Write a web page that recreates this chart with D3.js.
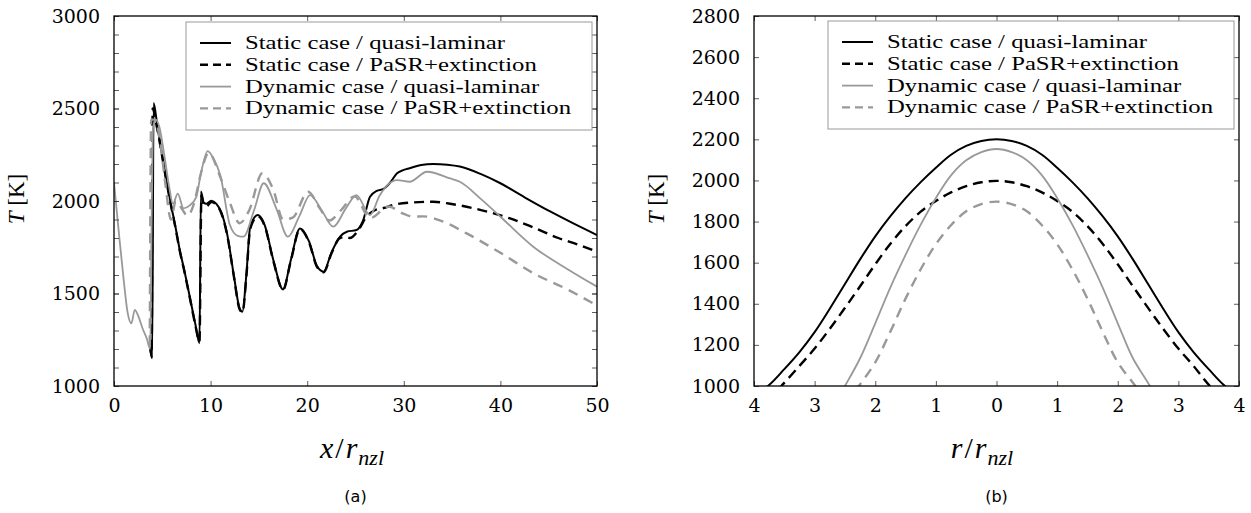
<!DOCTYPE html>
<html lang="en">
<head>
  <meta charset="UTF-8">
  <title>Temperature profiles</title>
  <script src="https://d3js.org/d3.v7.min.js"></script>
</head>
<body style="margin:0;background:#fff">
  <svg width="1251" height="513"></svg>
  <script>
    // (a) axial profiles: [x/r_nzl, T]
    const staticQL_a = [[3.75,1200],[3.95,1150],[4.1,2530],[4.5,2400],[4.86,2287],[5.4,2120],[5.9,1980],[6.4,1850],[6.77,1745],[7.3,1620],[7.8,1493],[8.4,1340],[8.85,1231],[9.0,2052],[9.3,1990],[9.55,1985],[10.07,2002],[10.6,1985],[11.1,1940],[11.7,1825],[12.4,1600],[13.0,1420],[13.3,1402],[13.7,1600],[14.1,1861],[14.9,1924],[15.6,1870],[16.5,1680],[17.5,1522],[18.3,1680],[19.25,1852],[20.2,1780],[21.0,1650],[21.7,1618],[22.5,1720],[23.4,1807],[24.1,1834],[25.1,1843],[25.8,1897],[26.5,2023],[27.2,2055],[27.9,2065],[28.6,2100],[29.3,2150],[30.0,2168],[30.6,2177],[31.8,2195],[33.05,2200],[34.5,2196],[35.8,2186],[38.0,2145],[40.0,2096],[42.5,2020],[45.2,1942],[47.5,1880],[50,1816]];
    const staticPaSR_a = [[3.75,1210],[3.9,1160],[4.0,2500],[4.4,2410],[4.86,2280],[5.4,2115],[5.9,1975],[6.4,1845],[6.77,1740],[7.3,1615],[7.8,1490],[8.4,1335],[8.85,1240],[9.05,2030],[9.3,1975],[9.55,1970],[10.07,1995],[10.6,1980],[11.1,1935],[11.7,1820],[12.4,1595],[13.0,1415],[13.3,1398],[13.7,1590],[14.1,1850],[14.9,1918],[15.6,1865],[16.5,1675],[17.5,1520],[18.3,1675],[19.25,1848],[20.2,1775],[21.0,1645],[21.7,1615],[22.5,1715],[23.4,1800],[24.0,1805],[24.4,1800],[25.3,1843],[26.2,1920],[27.0,1950],[27.9,1962],[29.0,1980],[30.6,1991],[33.05,1996],[34.8,1985],[36.5,1969],[38.8,1940],[41.0,1906],[43.5,1855],[46.0,1800],[48.0,1765],[50,1726]];
    const dynamicQL_a = [[0,2100],[0.5,1830],[1.0,1575],[1.4,1400],[1.8,1339],[2.15,1412],[2.5,1380],[2.95,1312],[3.4,1255],[3.75,1200],[3.9,1900],[4.05,2400],[4.3,2440],[4.7,2400],[5.2,2250],[5.7,2080],[6.1,1985],[6.6,2040],[7.2,1960],[7.8,1975],[8.5,2020],[9.0,2150],[9.7,2270],[10.3,2230],[11.0,2140],[12.0,1870],[12.8,1812],[13.4,1807],[14.5,1950],[15.5,2096],[16.8,1960],[18.0,1807],[19.2,1920],[20.3,2032],[21.5,1950],[22.7,1861],[24.0,1960],[25.1,2032],[26.5,1924],[27.5,2030],[29.3,2113],[30.6,2104],[32.4,2158],[34.8,2122],[35.8,2104],[38.0,2010],[40.0,1915],[43.4,1753],[47.0,1630],[50,1537]];
    const dynamicPaSR_a = [[3.7,1220],[3.85,2440],[4.2,2440],[4.7,2350],[5.3,2100],[5.9,1900],[6.4,2000],[7.0,1960],[7.6,1920],[8.3,1990],[9.0,2150],[9.8,2260],[11.0,2130],[12.0,1990],[13.0,1880],[14.0,1950],[15.35,2150],[16.5,2060],[17.5,1900],[18.5,1910],[20.1,2050],[21.3,1960],[22.3,1895],[23.5,1950],[24.9,2025],[26.5,1907],[28.4,1970],[30.0,1930],[31.0,1915],[32.0,1917],[34.0,1890],[36.5,1825],[40.0,1720],[43.4,1610],[47.0,1520],[50,1435]];

    // (b) radial profiles: [r/r_nzl, T]
    const staticQL_b = [[-4,960],[-3.77,1000],[-3.5,1082],[-3.25,1165],[-3,1262],[-2.75,1376],[-2.5,1496],[-2.25,1616],[-2,1728],[-1.75,1826],[-1.5,1914],[-1.25,1992],[-1,2062],[-0.75,2125],[-0.5,2168],[-0.25,2192],[0,2200],[0.25,2192],[0.5,2168],[0.75,2125],[1,2062],[1.25,1992],[1.5,1914],[1.75,1826],[2,1728],[2.25,1616],[2.5,1496],[2.75,1376],[3,1262],[3.25,1165],[3.5,1082],[3.77,1000],[4,960]];
    const staticPaSR_b = [[-3.8,930],[-3.55,1000],[-3.25,1098],[-3,1182],[-2.75,1278],[-2.5,1380],[-2.25,1485],[-2,1592],[-1.75,1692],[-1.5,1778],[-1.25,1848],[-1,1900],[-0.75,1942],[-0.5,1972],[-0.25,1991],[0,1998],[0.25,1991],[0.5,1972],[0.75,1942],[1,1900],[1.25,1848],[1.5,1778],[1.75,1692],[2,1592],[2.25,1485],[2.5,1380],[2.75,1278],[3,1182],[3.25,1098],[3.52,1000],[3.8,930]];
    const dynamicQL_b = [[-2.7,900],[-2.5,1000],[-2.25,1135],[-2,1305],[-1.75,1480],[-1.5,1638],[-1.25,1785],[-1,1915],[-0.75,2025],[-0.5,2098],[-0.25,2138],[0,2153],[0.25,2138],[0.5,2098],[0.75,2025],[1,1915],[1.25,1785],[1.5,1638],[1.75,1480],[2,1305],[2.25,1135],[2.53,1000],[2.7,900]];
    const dynamicPaSR_b = [[-2.5,910],[-2.27,1000],[-2,1115],[-1.75,1265],[-1.5,1425],[-1.25,1568],[-1,1690],[-0.75,1782],[-0.5,1850],[-0.25,1885],[0,1897],[0.25,1885],[0.5,1850],[0.75,1782],[1,1690],[1.25,1568],[1.5,1425],[1.75,1265],[2,1115],[2.29,1000],[2.5,910]];

    const seriesNames = ['Static case / quasi-laminar', 'Static case / PaSR+extinction',
                         'Dynamic case / quasi-laminar', 'Dynamic case / PaSR+extinction'];
    const styles = [
      { stroke: '#000', width: 2, dash: null },
      { stroke: '#000', width: 2.4, dash: '10,6' },
      { stroke: '#999', width: 1.8, dash: null },
      { stroke: '#999', width: 2.4, dash: '10,7' }
    ];

    const serif = '"Liberation Serif", "Times New Roman", serif';
    const tickFont = '"DejaVu Serif", serif';

    const svg = d3.select('svg');

    function panel(o) {
      const x = d3.scaleLinear(o.xDomain, o.xRange);
      const y = d3.scaleLinear(o.yDomain, o.yRange);
      const g = svg.append('g');

      g.append('clipPath').attr('id', o.id)
        .append('rect')
        .attr('x', o.xRange[0]).attr('y', o.yRange[1])
        .attr('width', o.xRange[1] - o.xRange[0])
        .attr('height', o.yRange[0] - o.yRange[1]);

      const line = d3.line().x(d => x(d[0])).y(d => y(d[1])).curve(o.curve);
      o.data.forEach((s, i) => {
        g.append('path')
          .attr('clip-path', `url(#${o.id})`)
          .attr('d', line(s))
          .attr('fill', 'none')
          .attr('stroke', styles[i].stroke)
          .attr('stroke-width', styles[i].width)
          .attr('stroke-dasharray', styles[i].dash);
      });

      // axes, ticks pointing inward
      const bottom = d3.axisBottom(x).tickValues(o.xTicks).tickSize(-5).tickPadding(13).tickFormat(o.xFormat);
      const top = d3.axisTop(x).tickValues(o.xTicks).tickSize(-5).tickFormat('');
      const left = d3.axisLeft(y).tickValues(o.yTicks).tickSize(-5).tickPadding(14).tickFormat(d3.format('d'));
      const right = d3.axisRight(y).tickValues(o.yTicks).tickSize(-5).tickFormat('');
      const minorL = d3.axisLeft(y).tickValues(o.yMinor).tickSize(-5).tickFormat('');
      const minorR = d3.axisRight(y).tickValues(o.yMinor).tickSize(-5).tickFormat('');

      const ax = [
        [bottom, `translate(0,${o.yRange[0]})`],
        [top, `translate(0,${o.yRange[1]})`],
        [left, `translate(${o.xRange[0]},0)`],
        [right, `translate(${o.xRange[1]},0)`],
        [minorL, `translate(${o.xRange[0]},0)`],
        [minorR, `translate(${o.xRange[1]},0)`]
      ];
      ax.forEach(([a, t]) => {
        const ga = g.append('g').attr('transform', t).call(a);
        ga.select('.domain').remove();
        ga.attr('font-family', tickFont).attr('font-size', 19);
        ga.selectAll('text').attr('fill', '#000');
        ga.selectAll('line').attr('stroke', '#333').attr('stroke-width', 0.8);
      });

      g.append('rect')
        .attr('x', o.xRange[0]).attr('y', o.yRange[1])
        .attr('width', o.xRange[1] - o.xRange[0])
        .attr('height', o.yRange[0] - o.yRange[1])
        .attr('fill', 'none').attr('stroke', '#000').attr('stroke-width', 1.3);

      // legend
      const lg = g.append('g');
      lg.append('rect')
        .attr('x', o.legend[0]).attr('y', o.legend[1])
        .attr('width', o.legend[2]).attr('height', o.legend[3])
        .attr('fill', '#fff').attr('stroke', '#999').attr('stroke-width', 1);
      seriesNames.forEach((name, i) => {
        const ly = o.legend[1] + 21 + i * 21.8;
        lg.append('line')
          .attr('x1', o.legend[0] + 14).attr('x2', o.legend[0] + 45)
          .attr('y1', ly).attr('y2', ly)
          .attr('stroke', styles[i].stroke)
          .attr('stroke-width', styles[i].width)
          .attr('stroke-dasharray', styles[i].dash ? '8,5' : null);
        const t = lg.append('text')
          .attr('font-family', serif).attr('font-size', 19)
          .attr('x', o.legend[0] + 59).attr('y', ly + 6)
          .text(name);
        // widen: the original legend font runs wider than Times
        const w = t.node().getComputedTextLength();
        t.attr('textLength', w * 1.3).attr('lengthAdjust', 'spacingAndGlyphs');
      });

      // y label
      const cy = (o.yRange[0] + o.yRange[1]) / 2 - 2;
      const yl = g.append('text')
        .attr('transform', `translate(${o.yLabelX},${cy}) rotate(-90)`)
        .attr('text-anchor', 'middle')
        .attr('font-family', serif).attr('font-size', 23);
      yl.append('tspan').attr('font-style', 'italic').text('T');
      yl.append('tspan').text(' [K]');

      // x label
      const xl = g.append('text')
        .attr('x', o.xLabelX).attr('y', 458)
        .attr('text-anchor', 'middle')
        .attr('font-family', serif).attr('font-size', 30)
        .attr('font-style', 'italic');
      xl.append('tspan').text(o.xVar);
      xl.append('tspan').attr('dx', 2).attr('font-style', 'normal').text('/');
      xl.append('tspan').attr('dx', 2).text('r');
      xl.append('tspan').attr('font-size', 22).attr('dy', 7).attr('dx', 1).text('nzl');

      g.append('text')
        .attr('x', (o.xRange[0] + o.xRange[1]) / 2).attr('y', 502)
        .attr('text-anchor', 'middle')
        .attr('font-family', '"DejaVu Sans", sans-serif').attr('font-size', 16)
        .text(o.caption);
    }

    panel({
      id: 'clipA',
      xDomain: [0, 50], xRange: [114, 597],
      yDomain: [1000, 3000], yRange: [386, 16],
      xTicks: [0, 10, 20, 30, 40, 50], xFormat: d3.format('d'),
      yTicks: [1000, 1500, 2000, 2500, 3000],
      yMinor: d3.range(1100, 3000, 100),
      data: [staticQL_a, staticPaSR_a, dynamicQL_a, dynamicPaSR_a],
      curve: d3.curveMonotoneX,
      legend: [186, 22, 406, 108],
      yLabelX: 24, xLabelX: 352, xVar: 'x', caption: '(a)'
    });

    panel({
      id: 'clipB',
      xDomain: [-4, 4], xRange: [754, 1239],
      yDomain: [1000, 2800], yRange: [386, 16],
      xTicks: [-4, -3, -2, -1, 0, 1, 2, 3, 4], xFormat: d => Math.abs(d),
      yTicks: [1000, 1200, 1400, 1600, 1800, 2000, 2200, 2400, 2600, 2800],
      yMinor: [],
      data: [staticQL_b, staticPaSR_b, dynamicQL_b, dynamicPaSR_b],
      curve: d3.curveCatmullRom.alpha(0.5),
      legend: [828, 21, 406, 108],
      yLabelX: 664, xLabelX: 982, xVar: 'r', caption: '(b)'
    });
  </script>
</body>
</html>
